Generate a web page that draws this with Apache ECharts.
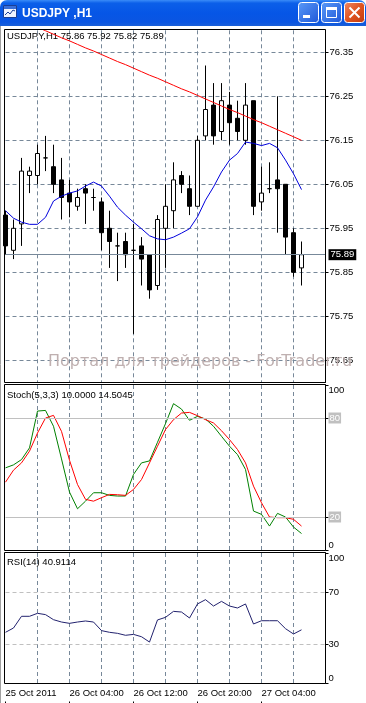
<!DOCTYPE html>
<html><head><meta charset="utf-8">
<script src="https://cdn.jsdelivr.net/npm/echarts@6/dist/echarts.min.js"></script>
<style>html,body{margin:0;padding:0;background:#fff;}#c{width:366px;height:703px;}</style>
</head><body><div id="c"></div><script>
const symbolName = 'USDJPY';
const period = 'H1';
const watermark = 'Портал для трейдеров - ForTrader.ru';

const times = [
 '2011.10.25 20:00','2011.10.25 21:00','2011.10.25 22:00','2011.10.25 23:00',
 '2011.10.26 00:00','2011.10.26 01:00','2011.10.26 02:00','2011.10.26 03:00',
 '2011.10.26 04:00','2011.10.26 05:00','2011.10.26 06:00','2011.10.26 07:00',
 '2011.10.26 08:00','2011.10.26 09:00','2011.10.26 10:00','2011.10.26 11:00',
 '2011.10.26 12:00','2011.10.26 13:00','2011.10.26 14:00','2011.10.26 15:00',
 '2011.10.26 16:00','2011.10.26 17:00','2011.10.26 18:00','2011.10.26 19:00',
 '2011.10.26 20:00','2011.10.26 21:00','2011.10.26 22:00','2011.10.26 23:00',
 '2011.10.27 00:00','2011.10.27 01:00','2011.10.27 02:00','2011.10.27 03:00',
 '2011.10.27 04:00','2011.10.27 05:00','2011.10.27 06:00','2011.10.27 07:00',
 '2011.10.27 08:00','2011.10.27 09:00'
];
const shiftSlots = ['2011.10.27 10:00','2011.10.27 11:00','2011.10.27 12:00'];

const opens  = [75.98,75.90,75.96,76.07,76.07,76.11,76.09,76.06,76.03,76.00,76.04,76.02,76.01,75.95,75.91,75.92,75.90,75.91,75.89,75.82,75.95,75.99,76.07,76.04,76.00,76.16,76.23,76.17,76.23,76.20,76.15,76.24,76.01,76.04,76.06,76.05,75.94,75.86];
const highs  = [75.99,75.97,76.11,76.09,76.14,76.16,76.14,76.11,76.06,76.04,76.05,76.04,76.02,75.99,75.94,75.94,75.96,75.93,75.89,75.98,76.05,76.10,76.08,76.07,76.16,76.32,76.28,76.28,76.26,76.24,76.28,76.24,76.09,76.10,76.25,76.05,75.95,75.92];
const lows   = [75.89,75.88,75.91,76.03,76.05,76.08,76.03,75.97,75.975,75.99,75.96,75.99,75.90,75.86,75.83,75.86,75.71,75.82,75.79,75.81,75.86,75.95,76.03,75.98,76.00,76.15,76.14,76.15,76.14,76.15,76.14,75.98,75.99,76.03,75.94,75.89,75.84,75.82];
const closes = [75.91,75.95,76.08,76.08,76.12,76.11,76.05,76.02,76.01,76.02,76.03,76.02,75.94,75.92,75.91,75.89,75.90,75.88,75.81,75.97,76.00,76.06,76.05,76.00,76.15,76.22,76.16,76.24,76.19,76.17,76.23,76.00,76.03,76.04,76.04,75.93,75.85,75.89];

const maBlue = [75.990,75.973,75.964,75.959,75.959,75.975,76.012,76.023,76.030,76.035,76.046,76.055,76.046,76.023,75.998,75.980,75.964,75.949,75.933,75.926,75.924,75.930,75.939,75.949,75.976,76.014,76.044,76.078,76.105,76.120,76.146,76.143,76.138,76.143,76.133,76.105,76.074,76.038];
const maRed = [null,null,null,null,76.407,76.399,76.391,76.383,76.376,76.368,76.360,76.353,76.345,76.337,76.329,76.322,76.314,76.306,76.298,76.291,76.283,76.275,76.267,76.260,76.252,76.244,76.236,76.228,76.220,76.213,76.205,76.197,76.190,76.182,76.174,76.166,76.158,76.150];

const stochMain   = [49.8,51.6,54.8,61.9,84.2,84.6,75.0,55.2,35.1,25.0,29.6,34.7,34.7,33.1,32.7,32.7,45.8,52.8,54.0,65.3,76.6,88.7,85.4,78.6,81.0,79.4,75.0,68.9,62.9,57.8,48.8,23.6,21.6,14.5,22.2,20.0,13.9,10.0];
const stochSignal = [41.1,48.4,52.8,59.9,70.9,80.0,81.6,71.9,54.4,39.7,30.7,29.6,31.7,33.7,33.5,33.1,36.7,42.7,52.8,62.9,73.0,79.0,83.0,83.4,81.4,79.0,77.0,72.3,66.9,60.9,52.8,38.7,28.6,20.0,19.6,19.6,18.6,14.5045];
const rsiValues   = [39.0,42.3,51.3,51.3,53.6,52.6,48.7,46.9,45.9,46.9,47.7,46.9,40.3,39.0,38.2,36.7,37.4,35.6,31.5,48.5,50.5,55.1,54.6,50.0,60.8,64.1,59.2,62.8,59.2,57.7,60.8,45.4,47.9,47.9,47.9,41.8,37.7,40.9114];

const priceTicks = [75.65,75.75,75.85,75.95,76.05,76.15,76.25,76.35];
const stochTicks = [0,20,80,100];
const stochLevels = [80,20];
const rsiTicks = [0,30,70,100];
const rsiLevels = [70,30];

const FONT = "'Liberation Sans', Arial, sans-serif";
const FS = 9.5;
const GRID_DASH = {color:'#778899', type:[4,3], width:1};
const last = closes.length - 1;
const cats = times.concat(shiftSlots);
const MONTHS = ['Jan','Feb','Mar','Apr','May','Jun','Jul','Aug','Sep','Oct','Nov','Dec'];
function timeLabel(s, idx){
  const [d,t] = s.split(' ');
  const [y,m,dd] = d.split('.');
  return idx === 0 ? `${+dd} ${MONTHS[+m-1]} ${y}` : `${+dd} ${MONTHS[+m-1]} ${t}`;
}
const labelEvery = (idx) => idx % 8 === 0 && idx < times.length;
const gridEvery = (idx) => idx % 4 === 0 && idx > 0 && idx < cats.length - 1;

const chart = echarts.init(document.getElementById('c'), null, {renderer:'canvas', width:366, height:703});

// pane x-axes: grid lines only
const xAxes = [0,1,2].map(i => ({
  type:'category', gridIndex:i, data:cats, boundaryGap:false,
  axisLine:{show:false}, axisTick:{show:false}, axisLabel:{show:false},
  splitLine:{show:true, interval:gridEvery, lineStyle:GRID_DASH}
}));
// time scale strip under the RSI pane
xAxes.push({
  type:'category', gridIndex:3, data:cats, boundaryGap:false, position:'top',
  axisLine:{show:false},
  axisTick:{show:true, inside:true, interval:labelEvery, length:4, lineStyle:{color:'#000'}},
  axisLabel:{show:true, inside:true, interval:labelEvery, formatter:(v,idx)=>timeLabel(v,idx), align:'left', verticalAlign:'top', margin:5, fontSize:FS, color:'#000', fontFamily:FONT},
  splitLine:{show:false}
});

const levelRich = {lv:{backgroundColor:'#c0c0c0', color:'#fff', padding:[1,1,0,1], fontSize:FS, fontFamily:FONT}};
const headStyle = {fontSize:FS, fontWeight:'normal', color:'#000', fontFamily:FONT};

const option = {
  animation:false,
  backgroundColor:'#fff',
  textStyle:{fontFamily:FONT},
  title:[
    {z:0, text:`${symbolName},${period} ${opens[last].toFixed(2)} ${highs[last].toFixed(2)} ${lows[last].toFixed(2)} ${closes[last].toFixed(2)}`, left:7, top:31.5, padding:0, textStyle:headStyle},
    {z:0, text:`Stoch(5,3,3) ${stochMain[last].toFixed(4)} ${stochSignal[last].toFixed(4)}`, left:7, top:390, padding:0, textStyle:headStyle},
    {z:0, text:`RSI(14) ${rsiValues[last].toFixed(4)}`, left:7, top:557, padding:0, textStyle:headStyle}
  ],
  grid:[
    {left:5.5, width:320, top:30.3, height:352},
    {left:5.5, width:320, top:385, height:165},
    {left:5.5, width:320, top:553, height:130},
    {left:5.5, width:320, top:683.5, height:18}
  ],
  xAxis:xAxes,
  yAxis:[
    {type:'value', gridIndex:0, position:'right', min:75.60, max:76.40,
     axisLine:{show:true, lineStyle:{color:'#000'}},
     axisTick:{show:true, length:3, customValues:priceTicks, lineStyle:{color:'#000'}},
     axisLabel:{customValues:priceTicks, formatter:v=>v.toFixed(2), margin:4, fontSize:FS, color:'#000', fontFamily:FONT, showMinLabel:true, showMaxLabel:true},
     splitLine:{show:true, lineStyle:GRID_DASH}},
    {type:'value', gridIndex:1, position:'right', min:0, max:100,
     axisLine:{show:true, lineStyle:{color:'#000'}},
     axisTick:{show:true, length:3, customValues:stochTicks, lineStyle:{color:'#000'}},
     axisLabel:{customValues:stochTicks, margin:3, fontSize:FS, color:'#000', fontFamily:FONT, showMinLabel:true, showMaxLabel:true,
       verticalAlignMaxLabel:'top', verticalAlignMinLabel:'bottom',
       formatter:v=> stochLevels.includes(v) ? `{lv|${v}}` : `${v}`, rich:levelRich},
     splitLine:{show:false}},
    {type:'value', gridIndex:2, position:'right', min:0, max:100,
     axisLine:{show:true, lineStyle:{color:'#000'}},
     axisTick:{show:true, length:3, customValues:rsiTicks, lineStyle:{color:'#000'}},
     axisLabel:{customValues:rsiTicks, margin:3, fontSize:FS, color:'#000', fontFamily:FONT, showMinLabel:true, showMaxLabel:true,
       verticalAlignMaxLabel:'top', verticalAlignMinLabel:'bottom', formatter:v=>`${v}`},
     splitLine:{show:false}},
    {type:'value', gridIndex:3, show:false, min:0, max:1}
  ],
  series:[
    {type:'candlestick', xAxisIndex:0, yAxisIndex:0, silent:true, barWidth:4, clip:true,
     data: opens.map((o,i)=>[o, closes[i], lows[i], highs[i]]),
     itemStyle:{color:'#fff', color0:'#000', borderColor:'#000', borderColor0:'#000', borderColorDoji:'#000', borderWidth:1},
     markLine:{silent:true, symbol:'none', animation:false,
       data:[{yAxis:closes[last]}],
       lineStyle:{color:'#778899', type:'solid', width:1},
       label:{show:true, position:'end', distance:3, formatter:()=>closes[last].toFixed(2), backgroundColor:'#000', color:'#fff', padding:[1,2,0,2], fontSize:FS, fontFamily:FONT}}},
    {type:'line', xAxisIndex:0, yAxisIndex:0, silent:true, data:maBlue, symbol:'none', lineStyle:{color:'#0000dd', width:1}},
    {type:'line', xAxisIndex:0, yAxisIndex:0, silent:true, data:maRed, symbol:'none', lineStyle:{color:'#ff0000', width:1}},
    {type:'line', xAxisIndex:1, yAxisIndex:1, silent:true, data:stochMain, symbol:'none', lineStyle:{color:'#008000', width:1},
     markLine:{silent:true, symbol:'none', animation:false, data:stochLevels.map(v=>({yAxis:v})), lineStyle:{color:'#c0c0c0', type:'solid', width:1}, label:{show:false}}},
    {type:'line', xAxisIndex:1, yAxisIndex:1, silent:true, data:stochSignal, symbol:'none', lineStyle:{color:'#ff0000', width:1}},
    {type:'line', xAxisIndex:2, yAxisIndex:2, silent:true, data:rsiValues, symbol:'none', lineStyle:{color:'#22226e', width:1},
     markLine:{silent:true, symbol:'none', animation:false, data:rsiLevels.map(v=>({yAxis:v})), lineStyle:{color:'#c0c0c0', type:[4,3], width:1}, label:{show:false}}}
  ],
  graphic:[
    {type:'rect', z:100, silent:true, shape:{x:4.5, y:29.5, width:321, height:353}, style:{fill:null, stroke:'#000', lineWidth:1}},
    {type:'rect', z:100, silent:true, shape:{x:4.5, y:384.5, width:321, height:166}, style:{fill:null, stroke:'#000', lineWidth:1}},
    {type:'rect', z:100, silent:true, shape:{x:4.5, y:552.5, width:321, height:131}, style:{fill:null, stroke:'#000', lineWidth:1}},
    {type:'text', z:90, silent:true, x:48, y:362, style:{text:watermark, fill:'#bfb0b0', font:`16px 'DejaVu Sans', sans-serif`, verticalAlign:'middle', align:'left'}},
    {type:'rect', z:110, silent:true, shape:{x:0, y:0, width:366, height:26, r:[7,7,0,0]},
     style:{fill:new echarts.graphic.LinearGradient(0,0,0,1,[{offset:0,color:'#3a8cf8'},{offset:0.12,color:'#0b5fe9'},{offset:0.5,color:'#0656e6'},{offset:0.85,color:'#0a55e2'},{offset:1,color:'#1a5fd8'}])}},
    {type:'rect', z:111, silent:true, shape:{x:3.5, y:5.5, width:13, height:12}, style:{fill:'#f0f4ff', stroke:'#1b3f94', lineWidth:1}},
    {type:'rect', z:112, silent:true, shape:{x:4, y:6, width:12, height:3}, style:{fill:'#3a6fd8'}},
    {type:'polyline', z:112, silent:true, shape:{points:[[5,15],[8,12],[10,14],[13,10],[15,11]]}, style:{stroke:'#1b3f94', lineWidth:1, fill:null}},
    {type:'text', z:112, silent:true, x:22, y:13.5, style:{text:`${symbolName} ,${period}`, fill:'#fff', font:`bold 12px ${FONT}`, verticalAlign:'middle', textShadowColor:'#0a2a8a', textShadowOffsetX:1, textShadowOffsetY:1, textShadowBlur:0}},
    {type:'rect', z:111, silent:true, shape:{x:298.5, y:2.5, width:20, height:20, r:3},
     style:{fill:new echarts.graphic.LinearGradient(0,0,1,1,[{offset:0,color:'#5a9af8'},{offset:1,color:'#1e57d8'}]), stroke:'#fff', lineWidth:1}},
    {type:'rect', z:112, silent:true, shape:{x:303, y:15, width:7, height:3}, style:{fill:'#fff'}},
    {type:'rect', z:111, silent:true, shape:{x:321.5, y:2.5, width:20, height:20, r:3},
     style:{fill:new echarts.graphic.LinearGradient(0,0,1,1,[{offset:0,color:'#5a9af8'},{offset:1,color:'#1e57d8'}]), stroke:'#fff', lineWidth:1}},
    {type:'rect', z:112, silent:true, shape:{x:326.5, y:7.5, width:10, height:10}, style:{fill:null, stroke:'#fff', lineWidth:1}},
    {type:'rect', z:112, silent:true, shape:{x:326, y:7, width:11, height:3}, style:{fill:'#fff'}},
    {type:'rect', z:111, silent:true, shape:{x:344.5, y:2.5, width:20, height:20, r:3},
     style:{fill:new echarts.graphic.LinearGradient(0,0,1,1,[{offset:0,color:'#ee8a68'},{offset:0.5,color:'#e0531f'},{offset:1,color:'#c03a10'}]), stroke:'#fff', lineWidth:1}},
    {type:'line', z:112, silent:true, shape:{x1:349.5, y1:7.5, x2:359.5, y2:17.5}, style:{stroke:'#fff', lineWidth:2}},
    {type:'line', z:112, silent:true, shape:{x1:359.5, y1:7.5, x2:349.5, y2:17.5}, style:{stroke:'#fff', lineWidth:2}},
    {type:'line', z:105, silent:true, shape:{x1:0.5, y1:26, x2:0.5, y2:703}, style:{stroke:'#a0a0a0', lineWidth:1}}
  ]
};
chart.setOption(option);
</script></body></html>
